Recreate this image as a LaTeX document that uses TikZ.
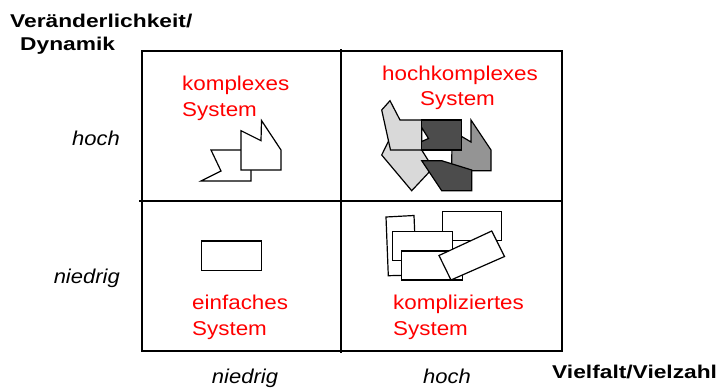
\documentclass[tikz,border=0pt]{standalone}
\usepackage{fontspec}
\setmainfont{Liberation Sans}
\newfontfamily\redfont[FakeStretch=1.12]{Liberation Sans}
\newfontfamily\axisfont[FakeStretch=1.1]{Liberation Sans}
\newfontfamily\titlefont[FakeStretch=1.23]{Liberation Sans}

\begin{document}
\begin{tikzpicture}[x=1pt,y=-1pt]
%% Colors
\colorlet{lightCol}{black!15}
\colorlet{midCol}{black!42}
\colorlet{darkCol}{black!70}
%% Styles
\tikzset{
  frame/.style = {line width=1.3pt},
  part/.style = {draw, line width=1.2pt, line join=miter},
  sysname/.style = {inner sep=0pt, anchor=base west, text=red, font=\redfont\fontsize{20}{24}\selectfont},
  level/.style = {inner sep=0pt, anchor=base east, font=\axisfont\itshape\fontsize{20}{24}\selectfont},
  levelx/.style = {inner sep=0pt, anchor=base, font=\axisfont\itshape\fontsize{20}{24}\selectfont},
  axisname/.style = {inner sep=0pt, anchor=base west, font=\titlefont\bfseries\fontsize{18.5}{22}\selectfont}
}
\useasboundingbox (0,0) rectangle (720,389);

%% Matrix frame
\path[draw,frame] (142,51) rectangle (562,351);
\path[draw,frame] (341,49) -- (341,353);
\path[draw,frame] (139,201) -- (562,201);

%% Axis titles
\node[axisname] (dyn1) at (10,27) {Veränderlichkeit/};
\node[axisname] (dyn2) at (20,50) {Dynamik};
\node[axisname] (vv) at (552,378) {Vielfalt/Vielzahl};

%% Axis levels
\node[level] (yhoch) at (120,145) {hoch};
\node[level] (yniedrig) at (120,283) {niedrig};
\node[levelx] (xniedrig) at (245,383) {niedrig};
\node[levelx] (xhoch) at (447,383) {hoch};

%% System names
\node[sysname] (kx1) at (182,90) {komplexes};
\node[sysname] (kx2) at (182,116) {System};
\node[sysname] (hk1) at (382,80) {hochkomplexes};
\node[sysname] (hk2) at (420,105) {System};
\node[sysname] (ef1) at (192,309) {einfaches};
\node[sysname] (ef2) at (192,335) {System};
\node[sysname] (kp1) at (393,309) {kompliziertes};
\node[sysname] (kp2) at (393,335) {System};

%% Einfaches System
\path[part,fill=white] (201.7,241) rectangle (261.7,270.7);

%% Komplexes System
\path[part,fill=white] (211,150) -- (251,150) -- (251,181) -- (201,181) -- (221,171) -- cycle;
\path[part,fill=white] (241,170) -- (241,130.7) -- (261,140.7) -- (261.5,120.5) -- (281,150) -- (281,170) -- cycle;

%% Hochkomplexes System
\path[part,fill=lightCol] (390,138) -- (421.7,150) -- (433,168) -- (411.7,190.7) -- (381.7,155) -- cycle;
\path[part,fill=lightCol] (381.7,110) -- (390,100.7) -- (400,120) -- (421.7,120) -- (421.7,150) -- (390.5,150) -- cycle;
\path[part,fill=midCol] (452,136.5) -- (461.7,136.5) -- (471,142) -- (471,120) -- (491,150) -- (491,170.7) -- (451.7,170.7) -- cycle;
\path[part,fill=darkCol] (421.7,120) rectangle (461.7,150);
\path[part,fill=white] (421.7,127.5) -- (428.5,138.5) -- (421.7,141.5) -- cycle;
\path[part,fill=darkCol] (421.7,160.7) -- (441.7,160.7) -- (471.7,170) -- (471.7,190.7) -- (441.7,190.7) -- cycle;

%% Kompliziertes System
\path[part,fill=white] (386,217) -- (414,215.5) -- (416.5,275) -- (388.3,275.7) -- cycle;
\path[part,fill=white] (442.3,211.7) rectangle (501.7,240.7);
\path[part,fill=white] (392.3,231.7) rectangle (452.3,260.7);
\path[part,fill=white] (401.7,251) rectangle (462.3,280);
\path[part,fill=white] (439,255.5) -- (491.7,231) -- (504.5,256.5) -- (451,280) -- cycle;

\end{tikzpicture}
\end{document}
